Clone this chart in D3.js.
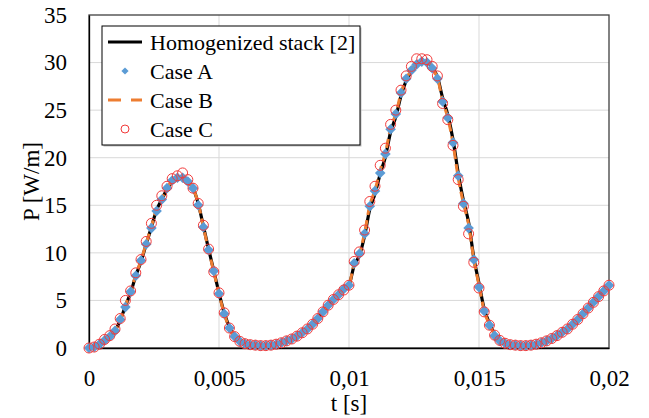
<!DOCTYPE html>
<html>
<head>
<meta charset="utf-8">
<script src="https://cdn.jsdelivr.net/npm/d3@7"></script>
<style>
  body { margin: 0; background: #fff; }
  svg text { font-family: "Liberation Serif", "Times New Roman", serif !important; fill: #000; }
</style>
</head>
<body>
<script>
const width = 649;
const height = 418;

// time samples in ms
const timeMs = [0, 0.2, 0.4, 0.6, 0.8, 1, 1.2, 1.4, 1.6, 1.8, 2, 2.2, 2.4, 2.6, 2.8, 3, 3.2, 3.4, 3.6, 3.8,
  4, 4.2, 4.4, 4.6, 4.8, 5, 5.2, 5.4, 5.6, 5.8, 6, 6.2, 6.4, 6.6, 6.8, 7, 7.2, 7.4, 7.6, 7.8,
  8, 8.2, 8.4, 8.6, 8.8, 9, 9.2, 9.4, 9.6, 9.8, 10, 10.2, 10.4, 10.6, 10.8, 11, 11.2, 11.4, 11.6, 11.8,
  12, 12.2, 12.4, 12.6, 12.8, 13, 13.2, 13.4, 13.6, 13.8, 14, 14.2, 14.4, 14.6, 14.8, 15, 15.2, 15.4, 15.6, 15.8,
  16, 16.2, 16.4, 16.6, 16.8, 17, 17.2, 17.4, 17.6, 17.8, 18, 18.2, 18.4, 18.6, 18.8, 19, 19.2, 19.4, 19.6, 19.8, 20];

const homogenized = [0, 0.1, 0.4, 0.8, 1.2, 1.8, 2.9, 4.4, 5.8, 7.6, 9.1, 10.9, 12.7, 14.5, 15.6, 16.7, 17.5, 17.9, 18.0, 17.6,
  16.8, 15.2, 12.8, 10.4, 8.1, 5.8, 3.7, 2.2, 1.2, 0.7, 0.45, 0.35, 0.3, 0.25, 0.25, 0.3, 0.4, 0.55, 0.75, 0.95,
  1.25, 1.6, 2.0, 2.5, 3.1, 3.8, 4.5, 5.1, 5.6, 6.1, 6.6, 8.7, 9.7, 11.8, 14.6, 16.2, 18.3, 20.1, 22.7, 24.3,
  26.5, 28.1, 29.1, 29.9, 30.1, 30.1, 29.5, 28.5, 26.3, 24.5, 21.9, 18.4, 15.5, 13.2, 9.5, 6.8, 4.1, 2.6, 1.5, 0.85,
  0.5, 0.35, 0.3, 0.25, 0.25, 0.3, 0.4, 0.55, 0.75, 1.0, 1.3, 1.65, 2.0, 2.5, 3.0, 3.6, 4.2, 4.8, 5.4, 6.0, 6.6];

const caseA = [0, 0.1, 0.4, 0.8, 1.2, 1.8, 3.0, 4.3, 5.9, 7.6, 9.2, 10.9, 12.6, 14.4, 15.6, 16.8, 17.6, 17.9, 17.9, 17.5,
  16.8, 15.0, 12.7, 10.3, 8.1, 5.7, 3.6, 2.1, 1.2, 0.7, 0.45, 0.35, 0.3, 0.25, 0.25, 0.3, 0.4, 0.55, 0.75, 0.95,
  1.25, 1.6, 2.0, 2.5, 3.1, 3.8, 4.5, 5.1, 5.6, 6.2, 6.6, 8.9, 9.9, 12.0, 14.9, 16.5, 18.4, 20.4, 23.0, 24.6,
  26.8, 28.3, 29.2, 29.8, 30.1, 30.0, 29.4, 28.3, 25.9, 24.2, 21.6, 18.1, 15.2, 12.6, 9.3, 6.4, 3.9, 2.4, 1.3, 0.75,
  0.5, 0.35, 0.3, 0.25, 0.25, 0.3, 0.4, 0.55, 0.75, 1.0, 1.3, 1.65, 2.0, 2.5, 3.0, 3.6, 4.2, 4.8, 5.4, 6.0, 6.6];

const caseB = [0, 0.1, 0.4, 0.8, 1.2, 1.8, 2.9, 4.5, 5.8, 7.7, 9.2, 11.0, 12.8, 14.6, 15.7, 16.8, 17.6, 17.9, 18.0, 17.6,
  16.8, 15.2, 12.7, 10.3, 8.0, 5.7, 3.6, 2.1, 1.2, 0.7, 0.45, 0.35, 0.3, 0.25, 0.25, 0.3, 0.4, 0.55, 0.75, 0.95,
  1.25, 1.6, 2.0, 2.5, 3.1, 3.8, 4.5, 5.1, 5.6, 6.1, 6.6, 8.9, 9.9, 12.1, 15.0, 16.6, 18.7, 20.5, 23.1, 24.6,
  26.8, 28.3, 29.2, 30.0, 30.2, 30.1, 29.4, 28.4, 26.0, 24.2, 21.5, 17.9, 15.2, 13.0, 9.3, 6.6, 3.9, 2.5, 1.4, 0.8,
  0.5, 0.35, 0.3, 0.25, 0.25, 0.3, 0.4, 0.55, 0.75, 1.0, 1.3, 1.65, 2.0, 2.5, 3.0, 3.6, 4.2, 4.8, 5.4, 6.0, 6.6];

const caseC = [0, 0.1, 0.4, 0.9, 1.3, 2.0, 3.1, 5.0, 6.0, 7.9, 9.3, 11.2, 13.1, 15.0, 16.0, 17.0, 17.8, 18.1, 18.4, 17.7,
  16.8, 15.2, 12.9, 10.4, 8.0, 5.8, 3.7, 2.1, 1.2, 0.7, 0.45, 0.35, 0.3, 0.25, 0.25, 0.3, 0.4, 0.55, 0.75, 0.95,
  1.25, 1.6, 2.0, 2.5, 3.1, 3.8, 4.5, 5.1, 5.6, 6.1, 6.6, 9.1, 10.1, 12.4, 15.4, 17.0, 19.2, 21.0, 23.5, 25.0,
  27.1, 28.6, 29.6, 30.4, 30.4, 30.3, 29.6, 28.6, 25.7, 24.0, 21.3, 17.7, 14.9, 12.0, 9.0, 6.3, 3.8, 2.4, 1.35, 0.8,
  0.5, 0.35, 0.3, 0.25, 0.25, 0.3, 0.4, 0.55, 0.75, 1.0, 1.3, 1.65, 2.0, 2.5, 3.0, 3.6, 4.2, 4.8, 5.4, 6.0, 6.6];

const xTicks = [0, 0.005, 0.01, 0.015, 0.02];
const yTicks = [0, 5, 10, 15, 20, 25, 30, 35];
const legendLabels = ['Homogenized stack [2]', 'Case A', 'Case B', 'Case C'];

const plotLeft = 89, plotRight = 609, plotTop = 15, plotBottom = 348;
const x = d3.scaleLinear().domain([0, 0.02]).range([plotLeft, plotRight]);
const y = d3.scaleLinear().domain([0, 35]).range([plotBottom, plotTop]);
const fmt = d => d === 0 ? '0' : String(d).replace('.', ',');
const serif = '"Liberation Serif", "Times New Roman", serif';

const svg = d3.select('body')
    .append('svg')
    .attr('width', width)
    .attr('height', height)
    .style('font-family', serif);

// gridlines
svg.append('g')
    .selectAll('line')
    .data(yTicks.filter(d => d > 0 && d < 35))
    .enter()
    .append('line')
    .attr('x1', plotLeft).attr('x2', plotRight)
    .attr('y1', d => y(d)).attr('y2', d => y(d))
    .attr('stroke', '#d9d9d9')
    .attr('stroke-width', 1);
svg.append('g')
    .selectAll('line')
    .data(xTicks.filter(d => d > 0 && d < 0.02))
    .enter()
    .append('line')
    .attr('x1', d => x(d)).attr('x2', d => x(d))
    .attr('y1', plotTop).attr('y2', plotBottom)
    .attr('stroke', '#d9d9d9')
    .attr('stroke-width', 1);

svg.append('rect')
    .attr('x', plotLeft).attr('y', plotTop)
    .attr('width', plotRight - plotLeft).attr('height', plotBottom - plotTop)
    .attr('fill', 'none')
    .attr('stroke', '#404040')
    .attr('stroke-width', 1.3);

// axes
const yAxis = svg.append('g')
    .attr('transform', `translate(${plotLeft},0)`)
    .call(d3.axisLeft(y).tickValues(yTicks).tickFormat(fmt).tickSize(0).tickPadding(22));
const xAxis = svg.append('g')
    .attr('transform', `translate(0,${plotBottom})`)
    .call(d3.axisBottom(x).tickValues(xTicks).tickFormat(fmt).tickSize(0).tickPadding(22));
[yAxis, xAxis].forEach(a => {
    a.attr('font-family', null).style('font-family', serif).attr('font-size', 23);
    a.select('.domain').attr('stroke', '#000').attr('stroke-width', 1.3);
    a.selectAll('text')
        .style('font-family', serif)
        .style('font-size', '23px')
        .attr('fill', '#000');
});

svg.append('text')
    .attr('x', (plotLeft + plotRight) / 2)
    .attr('y', 411)
    .attr('text-anchor', 'middle')
    .attr('font-size', 23)
    .text('t [s]');
svg.append('text')
    .attr('transform', `translate(39,${(plotTop + plotBottom) / 2}) rotate(-90)`)
    .attr('text-anchor', 'middle')
    .attr('font-size', 23)
    .text('P [W/m]');

// series
const pts = vals => vals.map((v, i) => [timeMs[i] / 1000, v]);
const line = d3.line()
    .x(d => x(d[0]))
    .y(d => y(d[1]))
    .curve(d3.curveMonotoneX);

svg.append('path')
    .attr('d', line(pts(homogenized)))
    .attr('fill', 'none')
    .attr('stroke', '#000')
    .attr('stroke-width', 3.2);
svg.append('path')
    .attr('d', line(pts(caseB)))
    .attr('fill', 'none')
    .attr('stroke', '#ed7d31')
    .attr('stroke-width', 3)
    .attr('stroke-dasharray', '9,5');

const diamond = d3.symbol().type(d3.symbolSquare).size(56);
svg.append('g')
    .selectAll('path')
    .data(pts(caseA))
    .enter()
    .append('path')
    .attr('d', diamond)
    .attr('transform', d => `translate(${x(d[0])},${y(d[1])}) rotate(45)`)
    .attr('fill', '#5b9bd5');

svg.append('g')
    .selectAll('circle')
    .data(pts(caseC))
    .enter()
    .append('circle')
    .attr('cx', d => x(d[0]))
    .attr('cy', d => y(d[1]))
    .attr('r', 5)
    .attr('fill', 'none')
    .attr('stroke', '#f23a3a')
    .attr('stroke-width', 1);

// legend
const lg = svg.append('g');
lg.append('rect')
    .attr('x', 103.5).attr('y', 27.5)
    .attr('width', 258).attr('height', 119)
    .attr('fill', '#bfbfbf');
lg.append('rect')
    .attr('x', 102).attr('y', 26)
    .attr('width', 258).attr('height', 119)
    .attr('fill', '#fff')
    .attr('stroke', '#000')
    .attr('stroke-width', 1);
const rowY = [42, 71, 100, 129];
lg.append('line')
    .attr('x1', 108).attr('x2', 142).attr('y1', rowY[0]).attr('y2', rowY[0])
    .attr('stroke', '#000').attr('stroke-width', 3);
lg.append('path')
    .attr('d', d3.symbol().type(d3.symbolSquare).size(26))
    .attr('transform', `translate(125,${rowY[1]}) rotate(45)`)
    .attr('fill', '#5b9bd5');
lg.append('line')
    .attr('x1', 108).attr('x2', 142).attr('y1', rowY[2]).attr('y2', rowY[2])
    .attr('stroke', '#ed7d31').attr('stroke-width', 3)
    .attr('stroke-dasharray', '13,10');
lg.append('circle')
    .attr('cx', 125).attr('cy', rowY[3]).attr('r', 4)
    .attr('fill', 'none').attr('stroke', '#f23a3a').attr('stroke-width', 1);
lg.selectAll('text.lab')
    .data(legendLabels)
    .enter()
    .append('text')
    .attr('class', 'lab')
    .attr('x', 150)
    .attr('y', (d, i) => rowY[i] + 7.5)
    .attr('font-size', 22)
    .text(d => d);
</script>
</body>
</html>
